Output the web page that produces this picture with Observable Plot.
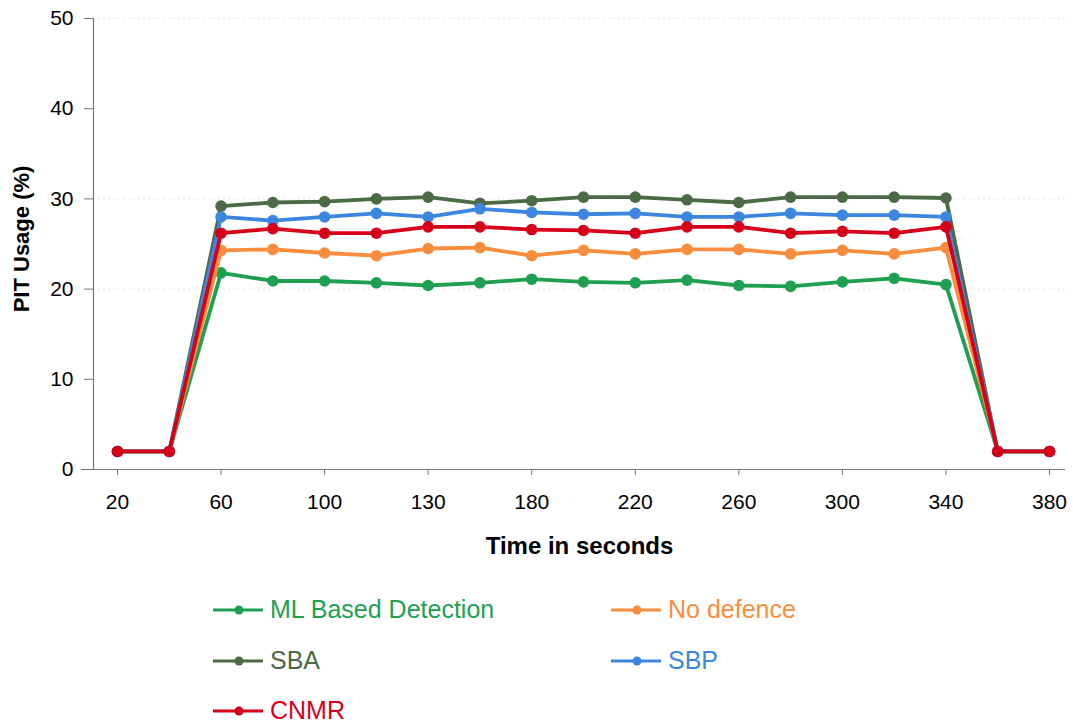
<!DOCTYPE html>
<html>
<head>
<meta charset="utf-8">
<script src="https://cdn.jsdelivr.net/npm/d3@7"></script>
<script src="https://cdn.jsdelivr.net/npm/@observablehq/plot@0.6"></script>
<style>
  html, body { margin: 0; padding: 0; background: #fff; }
  body { font-family: "Liberation Sans", Arial, Helvetica, sans-serif; width: 1073px; }
  #legend { position: relative; width: 1073px; height: 154px; }
  .item { position: absolute; display: flex; align-items: center; font-size: 25px; line-height: 1; }
  .item svg { margin-right: 7px; }
</style>
</head>
<body>
<div id="chart"></div>
<div id="legend"></div>
<script>
const times = [20, 40, 60, 80, 100, 120, 140, 160, 180, 200, 220, 240, 260, 280, 300, 320, 340, 360, 380];
const tickValues = [20, 60, 100, 140, 180, 220, 260, 300, 340, 380];
const tickLabels = ["20", "60", "100", "130", "180", "220", "260", "300", "340", "380"];
const yTicks = [0, 10, 20, 30, 40, 50];

const seriesNames = ["ML Based Detection", "No defence", "SBA", "SBP", "CNMR"];
const seriesColors = ["#1f9f52", "#f98d3e", "#4b6a45", "#3c86e0", "#d7001b"];

const mlBased   = [2, 2, 21.8, 20.9, 20.9, 20.7, 20.4, 20.7, 21.1, 20.8, 20.7, 21.0, 20.4, 20.3, 20.8, 21.2, 20.5, 2, 2];
const noDefence = [2, 2, 24.3, 24.4, 24.0, 23.7, 24.5, 24.6, 23.7, 24.3, 23.9, 24.4, 24.4, 23.9, 24.3, 23.9, 24.6, 2, 2];
const sba       = [2, 2, 29.2, 29.6, 29.7, 30.0, 30.2, 29.5, 29.8, 30.2, 30.2, 29.9, 29.6, 30.2, 30.2, 30.2, 30.1, 2, 2];
const sbp       = [2, 2, 28.0, 27.6, 28.0, 28.4, 28.0, 28.9, 28.5, 28.3, 28.4, 28.0, 28.0, 28.4, 28.2, 28.2, 28.0, 2, 2];
const cnmr      = [2, 2, 26.2, 26.7, 26.2, 26.2, 26.9, 26.9, 26.6, 26.5, 26.2, 26.9, 26.9, 26.2, 26.4, 26.2, 26.9, 2, 2];

const seriesValues = [mlBased, noDefence, sba, sbp, cnmr];
const data = [];
seriesNames.forEach((name, s) => {
  times.forEach((t, i) => data.push({series: name, time: t, value: seriesValues[s][i]}));
});

const FONT = "'Liberation Sans', Arial, Helvetica, sans-serif";

const lineMarks = seriesNames.flatMap((name, s) => {
  const d = data.filter(r => r.series === name);
  return [
    Plot.line(d, {x: "time", y: "value", stroke: seriesColors[s], strokeWidth: 3.8}),
    Plot.dot(d, {x: "time", y: "value", fill: seriesColors[s], r: 5.8})
  ];
});

const chart = Plot.plot({
  width: 1073,
  height: 570,
  marginTop: 18,
  marginBottom: 101,
  marginLeft: 93,
  marginRight: 8,
  style: {fontFamily: FONT, background: "#fff", color: "#000"},
  x: {domain: [20, 380], insetLeft: 24, insetRight: 16},
  y: {domain: [0, 50]},
  marks: [
    Plot.gridY([20, 30, 50], {stroke: "#bbb", strokeOpacity: 0.35, strokeDasharray: "2,3"}),
    Plot.ruleY([0], {stroke: "#777", strokeWidth: 1.2, insetLeft: -12}),
    Plot.ruleX([20], {y1: 0, y2: 50, dx: -24, stroke: "#777", strokeWidth: 1.2}),
    Plot.axisY({ticks: yTicks, tickSize: 9, tickPadding: 11, fontSize: 21, label: null, stroke: "#777"}),
    Plot.axisX({ticks: tickValues, tickFormat: (d, i) => tickLabels[i], tickSize: 6, tickPadding: 19, fontSize: 21, label: null, stroke: "#777"}),
    Plot.text(["Time in seconds"], {frameAnchor: "bottom", dy: 84, fontSize: 24, fontWeight: "bold", fill: "#000"}),
    Plot.text(["PIT Usage (%)"], {frameAnchor: "left", textAnchor: "middle", rotate: -90, dx: -72, dy: -5, fontSize: 22, fontWeight: "bold", fill: "#000"}),
    ...lineMarks
  ]
});
document.getElementById("chart").appendChild(chart);

const legend = document.getElementById("legend");
const positions = [[213, 39], [611, 39], [213, 90], [611, 90], [213, 140]];
seriesNames.forEach((name, s) => {
  const item = document.createElement("div");
  item.className = "item";
  item.style.left = positions[s][0] + "px";
  item.style.top = (positions[s][1] - 12) + "px";
  item.style.color = seriesColors[s];
  item.innerHTML = `<svg width="50" height="24"><line x1="0" x2="50" y1="12" y2="12" stroke="${seriesColors[s]}" stroke-width="3"/><circle cx="26" cy="12" r="4.5" fill="${seriesColors[s]}"/></svg><span>${name}</span>`;
  legend.appendChild(item);
});
</script>
</body>
</html>
